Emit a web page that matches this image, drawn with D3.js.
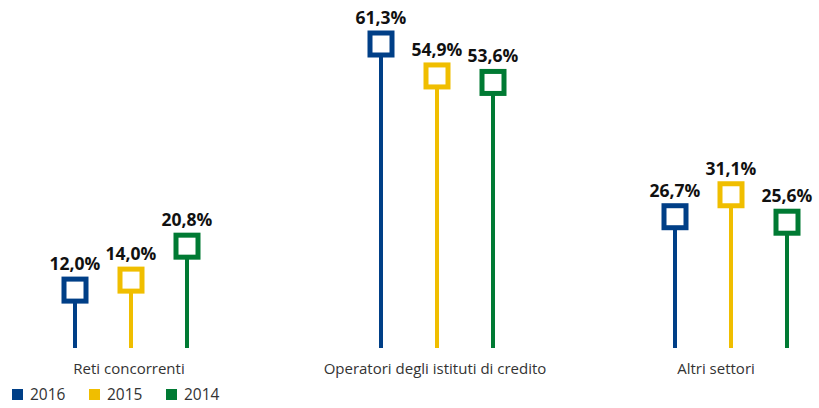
<!DOCTYPE html>
<html>
<head>
<meta charset="utf-8">
<script src="https://cdn.jsdelivr.net/npm/d3@7/dist/d3.min.js"></script>
<style>
  body { margin: 0; background: #fff; }
  svg { font-family: "Open Sans", "Noto Sans", sans-serif; }
</style>
</head>
<body>
<div class="chart"></div>
<script>
const categories = ['Reti concorrenti', 'Operatori degli istituti di credito', 'Altri settori'];
const years = ['2016', '2015', '2014'];
const values2016 = [12.0, 61.3, 26.7];
const values2015 = [14.0, 54.9, 31.1];
const values2014 = [20.8, 53.6, 25.6];
const colors = ['#003f87', '#f0be00', '#007a33'];

const W = 819, H = 408;
const series = [values2016, values2015, values2014];

const svg = d3.select('.chart').append('svg')
  .attr('width', W).attr('height', H);

// scales
const x = d3.scaleOrdinal().domain(categories).range([131, 437, 731]);
const xs = d3.scalePoint().domain(years).range([-56, 56]);
const y = d3.scaleLinear().domain([0, 61.3]).range([350, 44]);
const baseY = 348;

const fmt = v => d3.format('.1f')(v).replace('.', ',') + '%';

categories.forEach((cat, ci) => {
  years.forEach((yr, si) => {
    const v = series[si][ci];
    const cx = x(cat) + xs(yr);
    const cy = y(v);
    const g = svg.append('g');
    // stem
    g.append('line')
      .attr('x1', cx).attr('x2', cx)
      .attr('y1', cy).attr('y2', baseY)
      .attr('stroke', colors[si]).attr('stroke-width', 4);
    // square marker
    g.append('rect')
      .attr('x', cx - 11).attr('y', cy - 11)
      .attr('width', 22).attr('height', 22)
      .attr('fill', '#fff')
      .attr('stroke', colors[si]).attr('stroke-width', 5);
    // value label
    g.append('text')
      .attr('x', cx).attr('y', cy - 20)
      .attr('text-anchor', 'middle')
      .attr('font-size', 17.5).attr('font-weight', 'bold')
      .attr('fill', '#111')
      .text(fmt(v));
  });
});

// category labels
svg.selectAll('.cat')
  .data(categories)
  .enter().append('text')
  .attr('class', 'cat')
  .attr('x', (d, i) => x(d) - (i === 2 ? 13 : 0) - 2)
  .attr('y', 374)
  .attr('text-anchor', 'middle')
  .attr('font-size', 15)
  .attr('fill', '#333')
  .text(d => d);

// legend
const legend = svg.selectAll('.leg')
  .data(years)
  .enter().append('g')
  .attr('class', 'leg')
  .attr('transform', (d, i) => 'translate(' + (12 + i * 77) + ',389)');
legend.append('rect')
  .attr('width', 11).attr('height', 11)
  .attr('fill', (d, i) => colors[i]);
legend.append('text')
  .attr('x', 18).attr('y', 11)
  .attr('font-size', 15.5)
  .attr('fill', '#333')
  .text(d => d);
</script>
</body>
</html>
